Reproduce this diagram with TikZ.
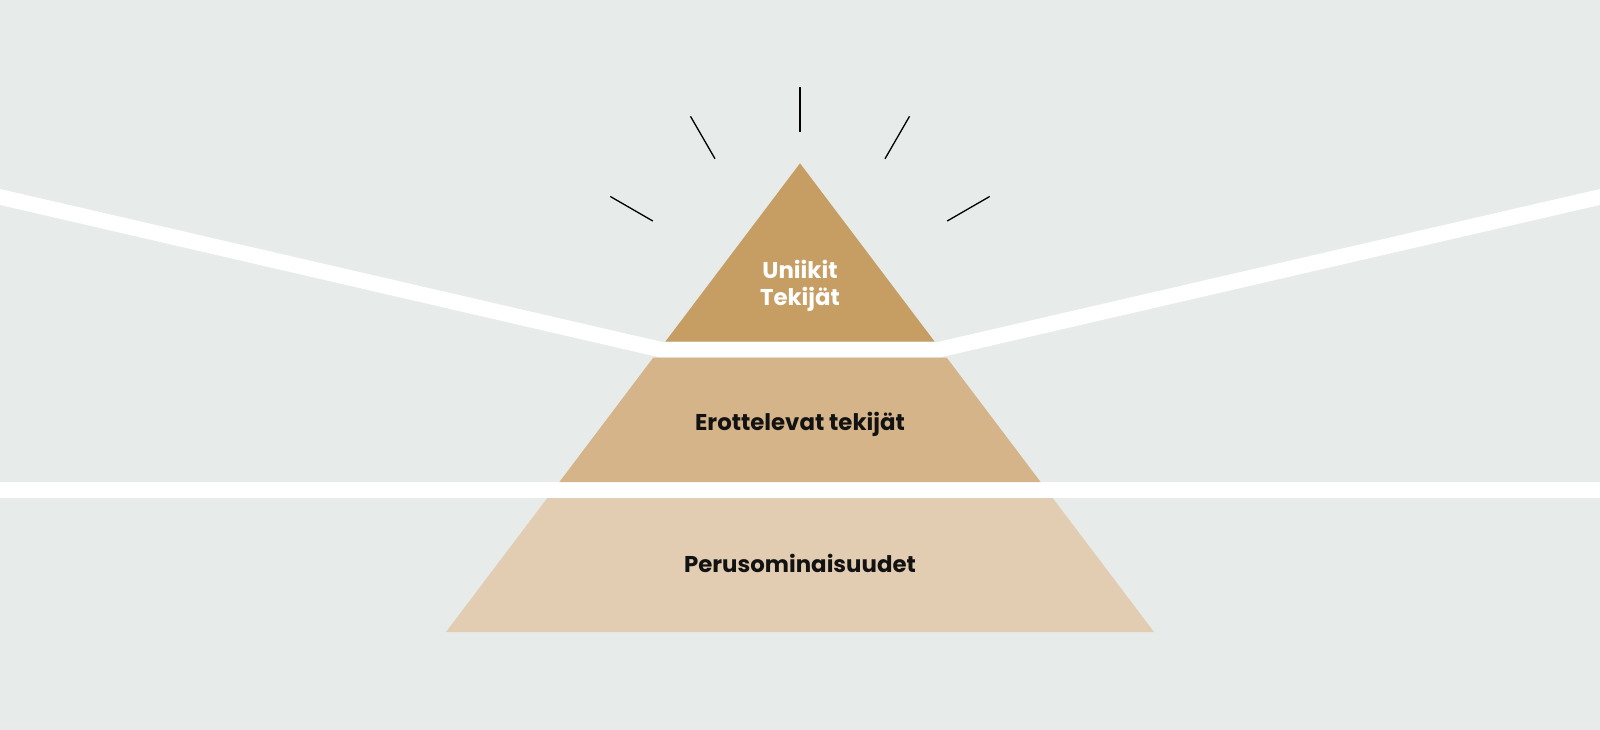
\documentclass[tikz,border=0pt]{standalone}
\usepackage{fontspec}
\setmainfont{Poppins}
\usetikzlibrary{calc}
\definecolor{backdrop}{HTML}{E7EBE9}
\definecolor{tiertop}{HTML}{C69E64}
\definecolor{tiermid}{HTML}{D5B48A}
\definecolor{tierbase}{HTML}{E3CDB2}
\tikzset{
  tierlabel/.style={font=\fontsize{6.5}{7.7}\selectfont\bfseries, text=black!93, inner sep=0pt},
  gap/.style={draw=white, line width=1.56mm, line join=miter},
  ray/.style={draw=black, line width=0.37pt},
}
\begin{document}
\begin{tikzpicture}[x=0.1mm, y=-0.1mm]
% Canvas
\useasboundingbox (0,0) rectangle (1600,730);
\fill[backdrop] (0,0) rectangle (1600,730);
% Coordinates
\coordinate (apex) at (800,163.3);
\coordinate (glow) at (800,306);
\coordinate (top-left) at (665.3,341.7);
\coordinate (top-right) at (934.7,341.7);
\coordinate (mid-upper-left) at (653.2,357.7);
\coordinate (mid-upper-right) at (946.8,357.7);
\coordinate (mid-lower-left) at (559.4,482);
\coordinate (mid-lower-right) at (1040.6,482);
\coordinate (base-upper-left) at (547.3,498);
\coordinate (base-upper-right) at (1052.7,498);
\coordinate (base-lower-left) at (446,632);
\coordinate (base-lower-right) at (1154,632);
% White gaps
\draw[gap] (-60,183.1) -- (661,349.7) -- (939,349.7) -- (1660,183.1);
\draw[gap] (-60,490) -- (1660,490);
% Tiers
\fill[tiertop] (apex) -- (top-right) -- (top-left) -- cycle;
\fill[tiermid] (mid-upper-left) -- (mid-upper-right) -- (mid-lower-right) -- (mid-lower-left) -- cycle;
\fill[tierbase] (base-upper-left) -- (base-upper-right) -- (base-lower-right) -- (base-lower-left) -- cycle;
% Rays above the apex
\draw[ray] ($(glow)+(210:170)$) -- ($(glow)+(210:219)$);
\draw[ray] ($(glow)+(240:170)$) -- ($(glow)+(240:219)$);
\draw[ray] ($(glow)+(270:174)$) -- ($(glow)+(270:219)$);
\draw[ray] ($(glow)+(300:170)$) -- ($(glow)+(300:219)$);
\draw[ray] ($(glow)+(330:170)$) -- ($(glow)+(330:219)$);
% Labels
\node[tierlabel, text=white, align=center] (unique) at (800,285.5) {Uniikit\\Tekijät};
\node[tierlabel, anchor=base] (distinct) at (800,431) {Erottelevat tekijät};
\node[tierlabel, anchor=base] (basic) at (800,572) {Perusominaisuudet};
\end{tikzpicture}
\end{document}
